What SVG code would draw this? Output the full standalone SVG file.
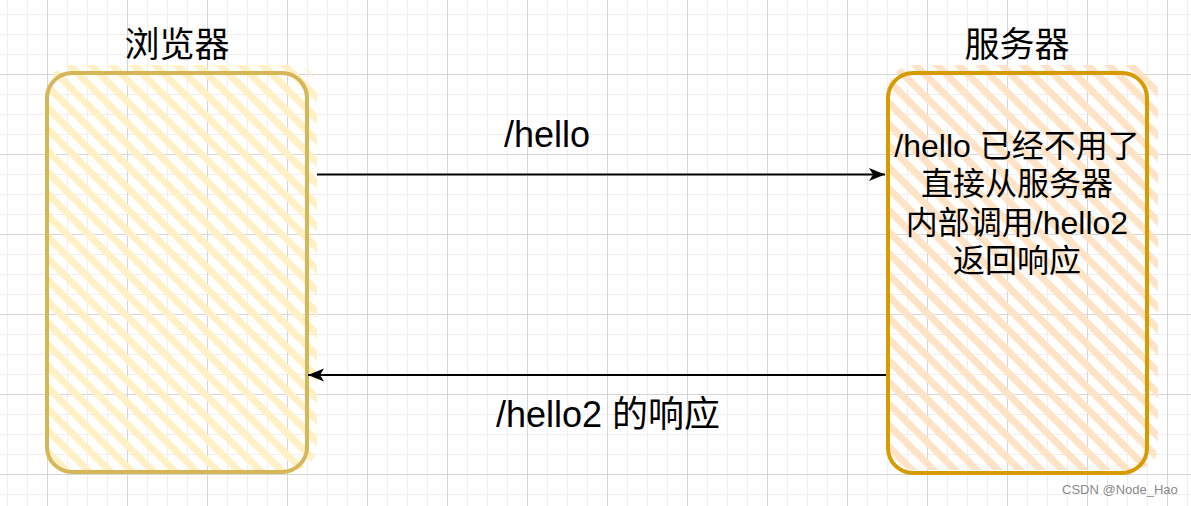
<svg xmlns="http://www.w3.org/2000/svg" width="1191" height="506" viewBox="0 0 1191 506">
  <style>
    .lbl { font-family: "Liberation Sans", "Noto Sans CJK SC", sans-serif; fill: #000000; text-anchor: middle; }
    .title { font-size: 35px; }
    .body { font-size: 32px; }
    .edge { font-size: 36px; }
    .conn { stroke: #000000; stroke-width: 2; fill: none; }
    .wm { font-family: "Liberation Sans", "Noto Sans", sans-serif; font-size: 13px; fill: #8a8a8a; }
  </style>
  <defs>
    <pattern id="gridMinor" patternUnits="userSpaceOnUse" x="7" y="14" width="20" height="20">
      <rect x="0" y="0" width="1" height="20" fill="#efefef"/>
      <rect x="0" y="0" width="20" height="1" fill="#efefef"/>
    </pattern>
    <pattern id="gridMajor" patternUnits="userSpaceOnUse" x="47" y="74" width="80" height="80">
      <rect x="0" y="0" width="1" height="80" fill="#d6d6d6"/>
      <rect x="0" y="0" width="80" height="1" fill="#d6d6d6"/>
    </pattern>
    <pattern id="hatchYellow" patternUnits="userSpaceOnUse" x="0" y="8.5" width="15.2" height="15.2" patternTransform="rotate(45)">
      <rect x="0" y="0" width="15.2" height="7.2" fill="#fff0c6"/>
    </pattern>
    <pattern id="hatchOrange" patternUnits="userSpaceOnUse" x="0" y="3" width="15.2" height="15.2" patternTransform="rotate(45)">
      <rect x="0" y="0" width="15.2" height="7.2" fill="#ffe3c6"/>
    </pattern>
    <marker id="arrow" markerUnits="userSpaceOnUse" markerWidth="18" markerHeight="14" viewBox="0 0 18 14" refX="17" refY="7" orient="auto">
      <path d="M1,0.5 L17,7 L1,13.5 L5,7 Z" fill="#000000"/>
    </marker>
  </defs>

  <rect x="0" y="0" width="1191" height="506" fill="#ffffff"/>
  <rect x="0" y="0" width="1191" height="506" fill="url(#gridMinor)"/>
  <rect x="0" y="0" width="1191" height="506" fill="url(#gridMajor)"/>

  <g id="browser">
    <rect x="48" y="65" width="269" height="405" rx="24" fill="url(#hatchYellow)"/>
    <rect x="47" y="73" width="260" height="399" rx="25" fill="none" stroke="#d6b656" stroke-width="4"/>
    <text class="lbl title" x="177" y="57">浏览器</text>
  </g>

  <g id="server">
    <rect x="889" y="65" width="269" height="405" rx="24" fill="url(#hatchOrange)"/>
    <rect x="888" y="73" width="259" height="400" rx="25" fill="none" stroke="#d79b00" stroke-width="4"/>
    <text class="lbl title" x="1017" y="57">服务器</text>
    <text class="lbl body" x="1017" y="157">/hello 已经不用了</text>
    <text class="lbl body" x="1017" y="195">直接从服务器</text>
    <text class="lbl body" x="1017" y="234">内部调用/hello2</text>
    <text class="lbl body" x="1017" y="272">返回响应</text>
  </g>

  <g id="connectors">
    <g id="edge-request">
      <path class="conn" d="M317,174.5 L885,174.5" marker-end="url(#arrow)"/>
      <text class="lbl edge" x="547" y="147">/hello</text>
    </g>
    <g id="edge-response">
      <path class="conn" d="M886,375 L308,375" marker-end="url(#arrow)"/>
      <text class="lbl edge" x="608" y="427">/hello2 的响应</text>
    </g>
  </g>

  <text class="wm" x="1062" y="494">CSDN @Node_Hao</text>
</svg>
